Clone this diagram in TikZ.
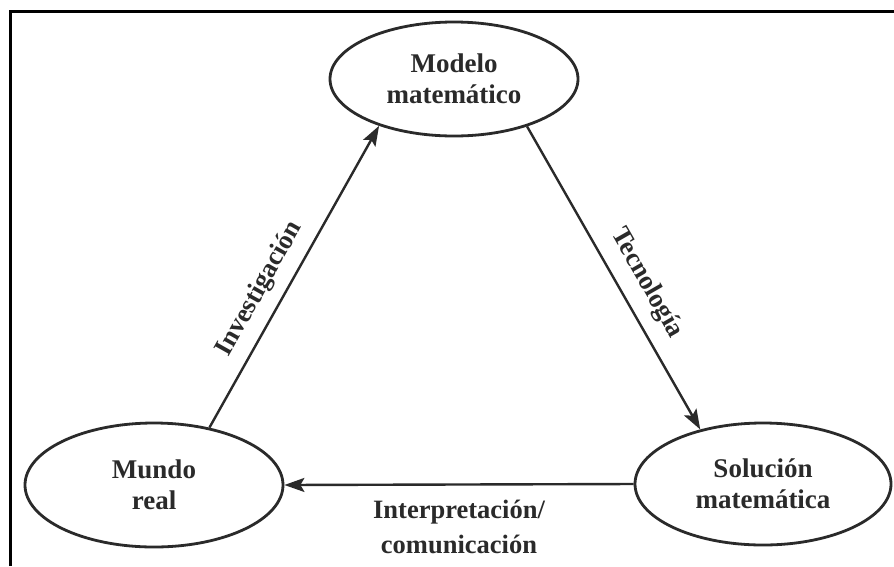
\documentclass[tikz,border=0pt]{standalone}
\usepackage{fontspec}
\setmainfont{Liberation Serif}
\usetikzlibrary{shapes.geometric,arrows.meta}
\definecolor{ink}{HTML}{2A2A2A}
\begin{document}
\begin{tikzpicture}[x=1pt,y=-1pt,
  txt/.style={font=\fontsize{27}{31}\bfseries\selectfont, text=ink, align=center},
  oval/.style={ellipse, draw=ink, line width=2.8pt, inner sep=0pt, txt},
  conn/.style={draw=ink, line width=2.4pt, -{Stealth[length=20pt,width=14pt,inset=4pt]}},
  lab/.style={font=\fontsize{26.5}{35}\bfseries\selectfont, text=ink, align=center}]
\useasboundingbox (0,0) rectangle (894,566);
\fill[white] (0,0) rectangle (894,566);
\coordinate (fa) at (10.5,566);
\coordinate (fb) at (10.5,11);
\coordinate (fc) at (894,11);
\draw[black, line width=3pt] (fa) -- (fb) -- (fc);

\node[oval, minimum width=248pt, minimum height=114pt] (modelo) at (454,79) {Modelo\\matemático};
\node[oval, minimum width=258pt, minimum height=124pt] (mundo) at (154,485) {Mundo\\real};
\node[oval, minimum width=256pt, minimum height=122pt] (sol) at (763,484) {Solución\\matemática};

\draw[conn] (mundo.46.6) -- node[lab, pos=0.42, sloped, yshift=24pt] {Investigación} (modelo.212);
\draw[conn] (modelo.327.8) -- node[lab, pos=0.56, sloped, yshift=26pt] {Tecnología} (sol.139);
\draw[conn] (sol.west) -- node[lab, midway, yshift=-42pt] {Interpretación/\\comunicación} (mundo.east);
\end{tikzpicture}
\end{document}
